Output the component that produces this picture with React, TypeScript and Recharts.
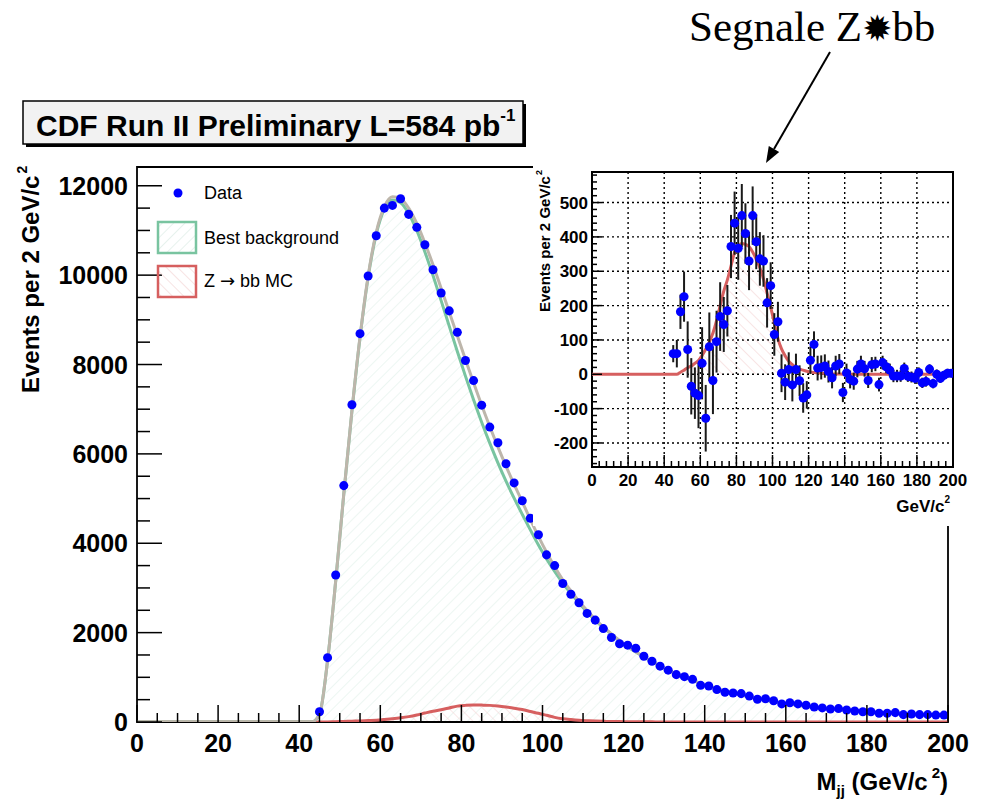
import React from 'react';
import {
  ComposedChart,
  Area,
  Line,
  Scatter,
  XAxis,
  YAxis,
  ErrorBar,
  ReferenceArea,
  CartesianGrid,
} from 'recharts';

const SANS = "'Liberation Sans', Arial, Helvetica, sans-serif";
const SERIF = "'Liberation Serif', 'Times New Roman', serif";

const BLUE = '#0000ff';
const GREEN = '#79c4a0';
const GREY = '#bdb6ab';
const RED = '#d65f5f';

// Dijet mass bin centres (2 GeV/c^2 bins)
const BIN_CENTERS = [
  45, 47, 49, 51, 53, 55, 57, 59, 61, 63,
  65, 67, 69, 71, 73, 75, 77, 79, 81, 83,
  85, 87, 89, 91, 93, 95, 97, 99, 101, 103,
  105, 107, 109, 111, 113, 115, 117, 119, 121, 123,
  125, 127, 129, 131, 133, 135, 137, 139, 141, 143,
  145, 147, 149, 151, 153, 155, 157, 159, 161, 163,
  165, 167, 169, 171, 173, 175, 177, 179, 181, 183,
  185, 187, 189, 191, 193, 195, 197, 199,
];

// Data, events per bin
const DATA_EVENTS = [
  230, 1440, 3290, 5290, 7100, 8690, 9980, 10880, 11500, 11560,
  11710, 11360, 11070, 10680, 10120, 9600, 9200, 8720, 8090, 7640,
  7090, 6600, 6250, 5780, 5350, 4950, 4560, 4190, 3740, 3500,
  3100, 2860, 2670, 2430, 2280, 2090, 1890, 1750, 1720, 1650,
  1470, 1360, 1250, 1160, 1060, 1015, 955, 820, 805, 725,
  665, 650, 635, 580, 510, 520, 475, 405, 430, 405,
  375, 335, 315, 290, 300, 270, 245, 230, 230, 195,
  195, 210, 165, 180, 165, 165, 155, 155,
];

// Fit curves: knots at 0, 43, every bin centre, 200
const CURVE_MASS = [0, 43, ...BIN_CENTERS, 200];

const BKG_FIT = [
  0, 0,
  170, 1380, 3150, 5100, 6950, 8600, 9950, 10920, 11480, 11680,
  11620, 11380, 11000, 10520, 9990, 9430, 8860, 8290, 7740, 7210,
  6710, 6240, 5800, 5390, 5010, 4650, 4300, 3960, 3650, 3370,
  3110, 2880, 2665, 2465, 2280, 2115, 1960, 1815, 1685, 1565,
  1455, 1350, 1250, 1160, 1075, 1000, 930, 865, 805, 748,
  695, 646, 602, 562, 525, 490, 458, 428, 400, 375,
  352, 331, 311, 293, 277, 262, 248, 235, 223, 212,
  202, 193, 184, 176, 169, 162, 156, 150,
  147,
];

const TOTAL_FIT = [
  0, 0,
  170, 1380, 3156, 5112, 6969, 8624, 9982, 10960, 11535, 11753,
  11714, 11500, 11156, 10720, 10232, 9705, 9175, 8645, 8112, 7591,
  7088, 6612, 6156, 5725, 5320, 4928, 4536, 4155, 3800, 3474,
  3184, 2934, 2703, 2493, 2300, 2130, 1972, 1824, 1692, 1570,
  1459, 1353, 1252, 1162, 1076, 1001, 931, 865, 805, 748,
  695, 646, 602, 562, 525, 490, 458, 428, 400, 375,
  352, 331, 311, 293, 277, 262, 248, 235, 223, 212,
  202, 193, 184, 176, 169, 162, 156, 150,
  147,
];

const ZBB_MC = [
  0, 0,
  0, 0, 6, 12, 19, 24, 32, 40, 55, 73,
  94, 120, 156, 200, 242, 275, 315, 355, 372, 381,
  378, 372, 356, 335, 310, 278, 236, 195, 150, 104,
  74, 54, 38, 28, 20, 15, 12, 9, 7, 5,
  4, 3, 2, 2, 1, 1, 1, 0, 0, 0,
  0, 0, 0, 0, 0, 0, 0, 0, 0, 0,
  0, 0, 0, 0, 0, 0, 0, 0, 0, 0,
  0, 0, 0, 0, 0, 0, 0, 0,
  0,
];

// Inset: data minus best background, with errors
const SUB_EVENTS = [
  60, 60, 182, 226, 72, -35, -55, -62, 32, -128,
  80, -18, 95, 168, 145, 185, 372, 440, 367, 462,
  410, 330, 462, 386, 336, 330, 208, 258, 116, 153,
  3, -23, 14, -31, 14, -19, -69, -60, 41, 87,
  18, 20, 24, 8, -10, 24, 30, -53, 4, -15,
  -20, 15, 30, 16, -18, 28, 30, -30, 34, 22,
  12, -5, -5, -5, 17, -6, -8, -12, 5, -25,
  -21, 15, -27, 0, -12, -3, 3, 3,
];

const SUB_ERRORS = [
  25, 40, 50, 73, 82, 82, 75, 95, 105, 97,
  100, 98, 90, 100, 80, 75, 92, 92, 92, 92,
  88, 85, 85, 80, 78, 75, 72, 68, 62, 58,
  55, 52, 50, 48, 46, 45, 43, 40, 40, 38,
  36, 35, 34, 32, 31, 30, 29, 28, 27, 26,
  25, 24, 24, 23, 22, 22, 21, 20, 20, 19,
  19, 18, 18, 17, 17, 16, 16, 16, 15, 15,
  15, 14, 14, 14, 13, 13, 13, 12,
];

// Axes
const MAIN_Y_TOP = 12420;
const MAIN_X_LABELS = [0, 20, 40, 60, 80, 100, 120, 140, 160, 180, 200];
const MAIN_Y_LABELS = [0, 2000, 4000, 6000, 8000, 10000, 12000];
const MAIN_X_TICKS = Array.from({ length: 41 }, (_, i) => i * 5);
const MAIN_Y_TICKS = Array.from({ length: 25 }, (_, i) => i * 500);

const INSET_Y_DOMAIN = [-270, 589];
const INSET_X_LABELS = [0, 20, 40, 60, 80, 100, 120, 140, 160, 180, 200];
const INSET_Y_LABELS = [-200, -100, 0, 100, 200, 300, 400, 500];
const INSET_X_TICKS = Array.from({ length: 51 }, (_, i) => i * 4);
const INSET_Y_TICKS = Array.from({ length: 43 }, (_, i) => -260 + i * 20);

const curveRows = CURVE_MASS.map((x, i) => ({
  x,
  bkg: BKG_FIT[i],
  total: TOTAL_FIT[i],
  sig: ZBB_MC[i],
}));
const dataPoints = BIN_CENTERS.map((x, i) => ({ x, y: DATA_EVENTS[i] }));
const subPoints = BIN_CENTERS.map((x, i) => ({ x, y: SUB_EVENTS[i], err: SUB_ERRORS[i] }));

function mainXTick(props: any) {
  const { x, y, payload } = props;
  const major = MAIN_X_LABELS.includes(payload.value);
  return (
    <g key={`mx-${payload.value}`}>
      <line x1={x} x2={x} y1={y} y2={y - (major ? 17 : 9)} stroke="#000" strokeWidth={1.5} />
      {major && (
        <text x={x} y={y + 30} textAnchor="middle" fontFamily={SANS} fontWeight="bold" fontSize={25} fill="#000">
          {payload.value}
        </text>
      )}
    </g>
  );
}

function mainYTick(props: any) {
  const { x, y, payload } = props;
  const major = MAIN_Y_LABELS.includes(payload.value);
  return (
    <g key={`my-${payload.value}`}>
      <line x1={x} x2={x + (major ? 25 : 13)} y1={y} y2={y} stroke="#000" strokeWidth={1.5} />
      {major && (
        <text x={x - 9} y={y} dy="0.36em" textAnchor="end" fontFamily={SANS} fontWeight="bold" fontSize={25} fill="#000">
          {payload.value}
        </text>
      )}
    </g>
  );
}

function insetXTick(props: any) {
  const { x, y, payload } = props;
  const major = INSET_X_LABELS.includes(payload.value);
  return (
    <g key={`ix-${payload.value}`}>
      <line x1={x} x2={x} y1={y} y2={y - (major ? 12 : 6)} stroke="#000" strokeWidth={1.5} />
      {major && (
        <text x={x} y={y + 19} textAnchor="middle" fontFamily={SANS} fontWeight="bold" fontSize={17} fill="#000">
          {payload.value}
        </text>
      )}
    </g>
  );
}

function insetYTick(props: any) {
  const { x, y, payload } = props;
  const major = INSET_Y_LABELS.includes(payload.value);
  return (
    <g key={`iy-${payload.value}`}>
      <line x1={x} x2={x + (major ? 10 : 5)} y1={y} y2={y} stroke="#000" strokeWidth={1.5} />
      {major && (
        <text x={x - 4} y={y} dy="0.36em" textAnchor="end" fontFamily={SANS} fontWeight="bold" fontSize={17} fill="#000">
          {payload.value}
        </text>
      )}
    </g>
  );
}

function Hatch({ id, color, angle }: { id: string; color: string; angle: number }) {
  return (
    <pattern id={id} width={8} height={8} patternUnits="userSpaceOnUse" patternTransform={`rotate(${angle})`}>
      <line x1={0} y1={0} x2={0} y2={8} stroke={color} strokeWidth={1} />
    </pattern>
  );
}

function MainPlot() {
  return (
    <ComposedChart width={986} height={803} data={curveRows} margin={{ top: 167, right: 38, bottom: 51, left: 57 }}>
      <defs>
        <Hatch id="mainBkgHatch" color="#dcede5" angle={45} />
        <Hatch id="mainSigHatch" color="#f3d2d2" angle={-45} />
      </defs>
      <XAxis
        dataKey="x"
        type="number"
        domain={[0, 200]}
        ticks={MAIN_X_TICKS}
        interval={0}
        height={30}
        tickSize={0}
        tickMargin={0}
        tickLine={false}
        axisLine={false}
        tick={mainXTick}
        allowDataOverflow
      />
      <YAxis
        type="number"
        domain={[0, MAIN_Y_TOP]}
        ticks={MAIN_Y_TICKS}
        interval={0}
        width={80}
        tickSize={0}
        tickMargin={0}
        tickLine={false}
        axisLine={false}
        tick={mainYTick}
        allowDataOverflow
      />
      <Area type="monotone" dataKey="bkg" stroke="none" fill="url(#mainBkgHatch)" fillOpacity={1} isAnimationActive={false} />
      <Area type="monotone" dataKey="sig" stroke="none" fill="url(#mainSigHatch)" fillOpacity={1} isAnimationActive={false} />
      <Line type="monotone" dataKey="sig" stroke={RED} strokeWidth={3} dot={false} activeDot={false} isAnimationActive={false} />
      <Line type="monotone" dataKey="bkg" stroke={GREEN} strokeWidth={3} dot={false} activeDot={false} isAnimationActive={false} />
      <Line type="monotone" dataKey="total" stroke={GREY} strokeWidth={3} dot={false} activeDot={false} isAnimationActive={false} />
      <ReferenceArea x1={0} x2={200} y1={0} y2={MAIN_Y_TOP} fill="none" stroke="#000" strokeWidth={1.8} fillOpacity={0} />
      <Scatter data={dataPoints} dataKey="y" fill={BLUE} isAnimationActive={false} />
    </ComposedChart>
  );
}

function InsetPlot() {
  return (
    <ComposedChart width={453} height={374} data={curveRows} margin={{ top: 20, right: 33, bottom: 31, left: 0 }}>
      <defs>
        <Hatch id="insetSigHatch" color="#f2cccc" angle={-45} />
      </defs>
      <CartesianGrid
        stroke="#000"
        strokeWidth={1.4}
        strokeDasharray="2 3"
        horizontalValues={INSET_Y_LABELS}
        verticalValues={INSET_X_LABELS.slice(1, -1)}
      />
      <XAxis
        dataKey="x"
        type="number"
        domain={[0, 200]}
        ticks={INSET_X_TICKS}
        interval={0}
        height={28}
        tickSize={0}
        tickMargin={0}
        tickLine={false}
        axisLine={false}
        tick={insetXTick}
        allowDataOverflow
      />
      <YAxis
        type="number"
        domain={INSET_Y_DOMAIN}
        ticks={INSET_Y_TICKS}
        interval={0}
        width={59}
        tickSize={0}
        tickMargin={0}
        tickLine={false}
        axisLine={false}
        tick={insetYTick}
        allowDataOverflow
      />
      <Area type="monotone" dataKey="sig" baseValue={0} stroke="none" fill="url(#insetSigHatch)" fillOpacity={1} isAnimationActive={false} />
      <Line type="monotone" dataKey="sig" stroke={RED} strokeWidth={3} dot={false} activeDot={false} isAnimationActive={false} />
      <Scatter data={subPoints} dataKey="y" fill={BLUE} isAnimationActive={false}>
        <ErrorBar dataKey="err" direction="y" width={0} stroke="#1a1a1a" strokeWidth={2} />
      </Scatter>
      <ReferenceArea x1={0} x2={200} y1={INSET_Y_DOMAIN[0]} y2={INSET_Y_DOMAIN[1]} fill="none" fillOpacity={0} stroke="#000" strokeWidth={2} />
    </ComposedChart>
  );
}

function Decorations() {
  return (
    <svg width={986} height={803} style={{ position: 'absolute', left: 0, top: 0, pointerEvents: 'none' }}>
      <defs>
        <Hatch id="legBkgHatch" color="#cfe6dc" angle={45} />
        <Hatch id="legSigHatch" color="#f0c8c8" angle={-45} />
      </defs>

      {/* title box */}
      <rect x={26} y={104} width={500} height={43} fill="#000" />
      <rect x={23} y={101} width={500} height={43} fill="#f2f2f2" stroke="#000" strokeWidth={1.5} />
      <text x={36} y={136} fontFamily={SANS} fontWeight="bold" fontSize={30} fill="#000">
        CDF Run II Preliminary L=584 pb
        <tspan fontSize={17} dy={-15}>-1</tspan>
      </text>

      {/* legend */}
      <circle cx={178} cy={193} r={4.5} fill={BLUE} />
      <text x={204} y={199} fontFamily={SANS} fontSize={18} fill="#000">Data</text>
      <rect x={158} y={222} width={38} height={31} fill="url(#legBkgHatch)" stroke={GREEN} strokeWidth={2.5} />
      <text x={204} y={244} fontFamily={SANS} fontSize={18} fill="#000">Best background</text>
      <rect x={158} y={266} width={38} height={31} fill="url(#legSigHatch)" stroke={RED} strokeWidth={2.5} />
      <text x={204} y={287} fontFamily={SANS} fontSize={18} fill="#000">
        Z <tspan fontFamily="'DejaVu Sans', sans-serif">→</tspan> bb MC
      </text>

      {/* main axis titles */}
      <text transform="translate(39, 393) rotate(-90)" fontFamily={SANS} fontWeight="bold" fontSize={24} fill="#000">
        Events per 2 GeV/c
        <tspan fontSize={14} dy={-12} dx={2}>2</tspan>
      </text>
      <text x={948} y={790} textAnchor="end" fontFamily={SANS} fontWeight="bold" fontSize={24} fill="#000">
        M
        <tspan fontSize={15} dy={6}>jj</tspan>
        <tspan dy={-6}> (GeV/c</tspan>
        <tspan fontSize={15} dy={-12} dx={4}>2</tspan>
        <tspan dy={12}>)</tspan>
      </text>

      {/* inset axis titles */}
      <text transform="translate(550, 312) rotate(-90)" fontFamily={SANS} fontWeight="bold" fontSize={15} fill="#000">
        Events per 2 GeV/c
        <tspan fontSize={9} dy={-8} dx={1}>2</tspan>
      </text>
      <text x={950} y={512} textAnchor="end" fontFamily={SANS} fontWeight="bold" fontSize={17} fill="#000">
        GeV/c
        <tspan fontSize={10} dy={-9}>2</tspan>
      </text>

      {/* annotation */}
      <text x={689} y={41} fontFamily={SERIF} fontSize={43} fill="#000">
        Segnale Z
        <tspan fontFamily="'DejaVu Sans', sans-serif" fontSize={36}>✹</tspan>
        bb
      </text>
      <line x1={830} y1={52} x2={774} y2={149} stroke="#000" strokeWidth={2} />
      <polygon points="766,163 779.2,152.1 768.8,146.1" fill="#000" />
    </svg>
  );
}

export default function App() {
  return (
    <div style={{ position: 'absolute', left: 0, top: 0, width: 986, height: 803, background: '#fff', overflow: 'hidden' }}>
      <div style={{ position: 'absolute', left: 0, top: 0 }}>
        <MainPlot />
      </div>
      <div style={{ position: 'absolute', left: 533, top: 152, width: 453, height: 374, background: '#fff' }}>
        <InsetPlot />
      </div>
      <Decorations />
    </div>
  );
}
